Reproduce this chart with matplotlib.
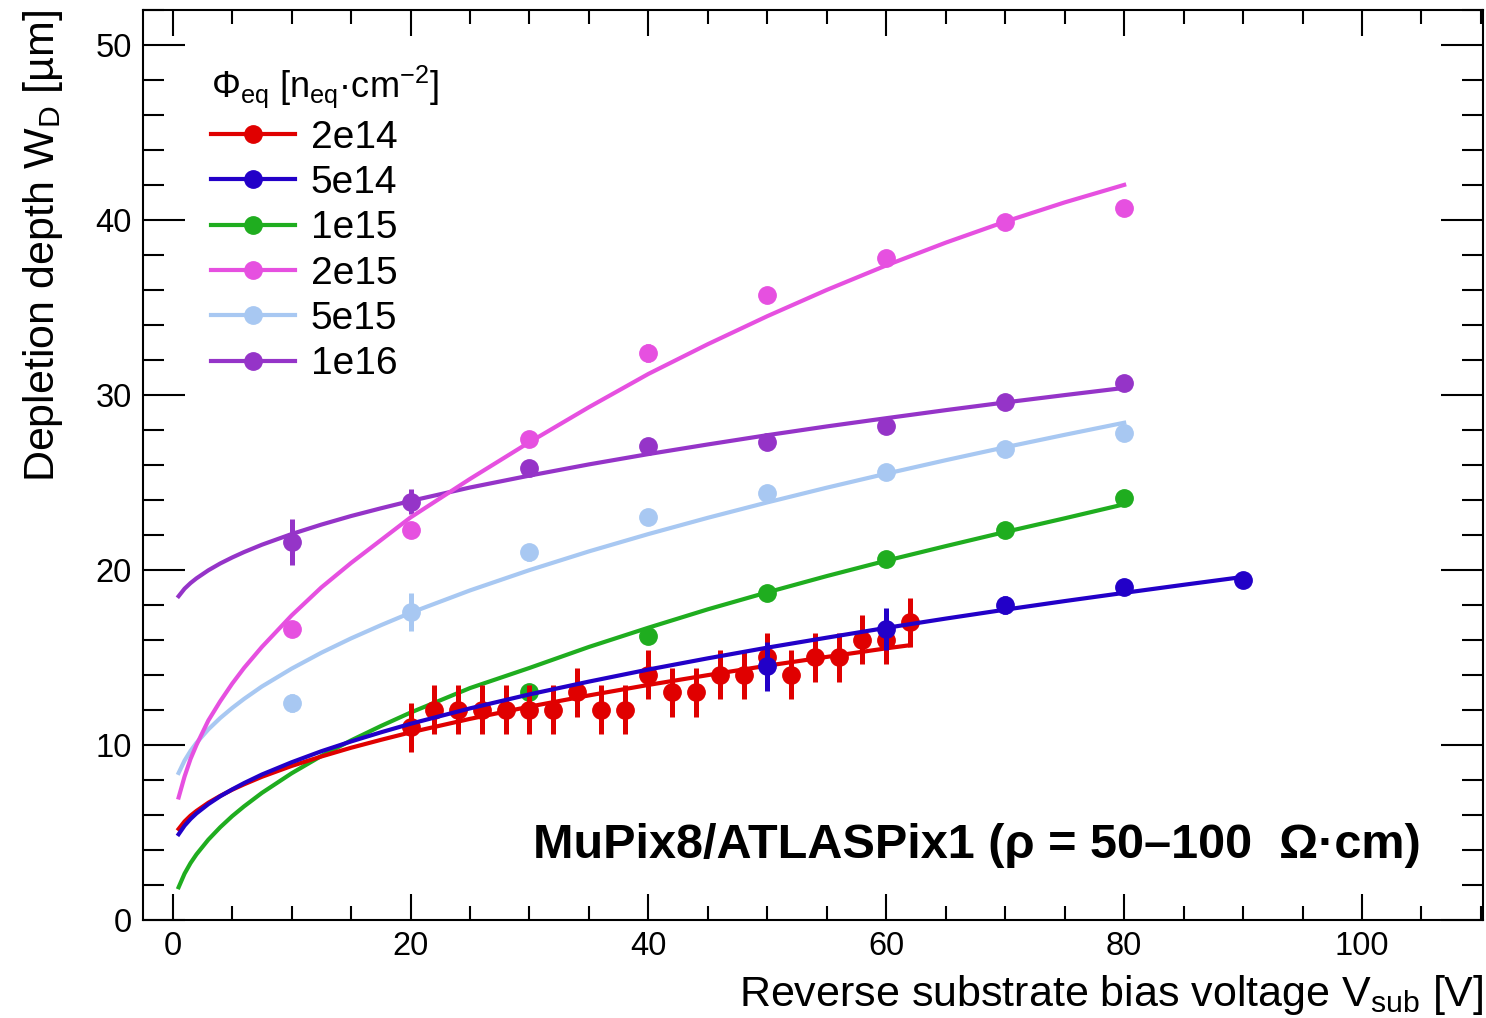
import numpy as np
import matplotlib
matplotlib.use("Agg")
import matplotlib.pyplot as plt
from matplotlib.lines import Line2D
from matplotlib.ticker import MultipleLocator

plt.rcParams['font.family'] = ['Liberation Sans', 'DejaVu Sans']
plt.rcParams['mathtext.fontset'] = 'custom'
plt.rcParams['mathtext.rm'] = 'Liberation Sans'
plt.rcParams['mathtext.it'] = 'Liberation Sans:italic'

# fluences (legend labels) and colours
labels = ['2e14', '5e14', '1e15', '2e15', '5e15', '1e16']
colors = ['#e00000', '#2200c8', '#1fad1f', '#e650e0', '#a8c8f2', '#9534c8']

# measured points: bias voltage [V], depletion depth [um], error [um]
v_2e14 = [20, 22, 24, 26, 28, 30, 32, 34, 36, 38, 40, 42, 44, 46, 48, 50, 52, 54, 56, 58, 60, 62]
w_2e14 = [11.0, 12.0, 12.0, 12.0, 12.0, 12.0, 12.0, 13.0, 12.0, 12.0, 14.0, 13.0, 13.0, 14.0, 14.0,
          15.0, 14.0, 15.0, 15.0, 16.0, 16.0, 17.0]
e_2e14 = [1.4] * 22

v_5e14 = [50, 60, 70, 80, 90]
w_5e14 = [14.5, 16.6, 18.0, 19.0, 19.4]
e_5e14 = [1.4, 1.2, 0.5, 0.3, 0.3]

v_1e15 = [30, 40, 50, 60, 70, 80]
w_1e15 = [13.0, 16.2, 18.7, 20.6, 22.3, 24.1]
e_1e15 = [0.2, 0.2, 0.2, 0.2, 0.2, 0.2]

v_2e15 = [10, 20, 30, 40, 50, 60, 70, 80]
w_2e15 = [16.6, 22.3, 27.5, 32.4, 35.7, 37.8, 39.9, 40.7]
e_2e15 = [0.3, 0.3, 0.3, 0.5, 0.3, 0.3, 0.3, 0.3]

v_5e15 = [10, 20, 30, 40, 50, 60, 70, 80]
w_5e15 = [12.4, 17.6, 21.0, 23.0, 24.4, 25.6, 26.9, 27.8]
e_5e15 = [0.5, 1.1, 0.5, 0.3, 0.3, 0.3, 0.3, 0.3]

v_1e16 = [10, 20, 30, 40, 50, 60, 70, 80]
w_1e16 = [21.6, 23.9, 25.8, 27.1, 27.3, 28.2, 29.6, 30.7]
e_1e16 = [1.3, 0.7, 0.3, 0.3, 0.3, 0.3, 0.3, 0.3]

# fit curves
fv = [0.5, 1, 1.5, 2, 3, 4, 5, 6, 7.5, 10, 12.5, 15, 17.5, 20, 25, 30, 35, 40, 45, 50, 55, 60,
      65, 70, 75, 80, 85, 90]
fw_2e14 = [5.20, 5.63, 5.96, 6.23, 6.70, 7.09, 7.44, 7.75, 8.18, 8.80, 9.34, 9.84, 10.29, 10.72,
           11.49, 12.19, 12.83, 13.43, 13.99, 14.53, 15.03, 15.52]
fv_2e14 = fv[:22] + [62]
fw_2e14 = fw_2e14 + [15.70]
fw_5e14 = [4.90, 5.39, 5.77, 6.09, 6.62, 7.07, 7.46, 7.82, 8.31, 9.01, 9.64, 10.20, 10.72, 11.21,
           12.09, 12.89, 13.62, 14.31, 14.95, 15.56, 16.13, 16.69, 17.22, 17.73, 18.22, 18.69,
           19.15, 19.60]
fw_1e15 = [1.87, 2.65, 3.25, 3.75, 4.59, 5.30, 5.93, 6.49, 7.26, 8.38, 9.37, 10.26, 11.08, 11.85,
           13.25, 14.40, 15.60, 16.70, 17.75, 18.72, 19.65, 20.53, 21.36, 22.17, 22.95, 23.75]
fw_2e15 = [7.0, 8.2, 9.2, 10.0, 11.4, 12.5, 13.5, 14.4, 15.6, 17.4, 19.0, 20.4, 21.7, 23.0,
           25.2, 27.3, 29.3, 31.2, 32.9, 34.5, 36.0, 37.4, 38.7, 39.9, 41.0, 42.0]
fw_5e15 = [8.40, 9.11, 9.66, 10.12, 10.89, 11.54, 12.11, 12.63, 13.34, 14.36, 15.27, 16.09, 16.84,
           17.55, 18.83, 19.99, 21.06, 22.05, 22.98, 23.86, 24.70, 25.50, 26.27, 27.01, 27.72, 28.41]
fw_1e16 = [18.50, 18.93, 19.25, 19.52, 19.98, 20.37, 20.71, 21.02, 21.44, 22.05, 22.59, 23.08,
           23.52, 23.94, 24.71, 25.39, 26.03, 26.62, 27.17, 27.70, 28.20, 28.67, 29.13, 29.57,
           29.99, 30.40]

points = [(v_2e14, w_2e14, e_2e14), (v_5e14, w_5e14, e_5e14), (v_1e15, w_1e15, e_1e15),
          (v_2e15, w_2e15, e_2e15), (v_5e15, w_5e15, e_5e15), (v_1e16, w_1e16, e_1e16)]
fits = [(fv_2e14, fw_2e14), (fv, fw_5e14), (fv[:26], fw_1e15),
        (fv[:26], fw_2e15), (fv[:26], fw_5e15), (fv[:26], fw_1e16)]
layer = [8, 10, 6, 4, 3, 2]  # blue over red over green over the rest

fig = plt.figure(figsize=(14.86, 10.18), dpi=100)
ax = fig.add_axes([0.0962, 0.0963, 0.902, 0.894])

for i in range(6):
    v, w, e = points[i]
    ax.errorbar(v, w, yerr=e, fmt='o', color=colors[i], ms=12.5, elinewidth=3.6, capsize=0,
                zorder=layer[i] + 0.5)
    x_fit, y_fit = fits[i]
    ax.plot(x_fit, y_fit, '-', color=colors[i], lw=3, zorder=layer[i])

ax.set_xlim(-2.5, 110.2)
ax.set_ylim(0, 52)
ax.xaxis.set_major_locator(MultipleLocator(20))
ax.xaxis.set_minor_locator(MultipleLocator(5))
ax.yaxis.set_major_locator(MultipleLocator(10))
ax.yaxis.set_minor_locator(MultipleLocator(2))
ax.tick_params(which='both', direction='in', top=True, right=True, width=1.5, labelsize=23.5)
ax.tick_params(axis='x', which='major', length=19, pad=8)
ax.tick_params(axis='x', which='minor', length=10)
ax.tick_params(axis='y', which='major', length=30, pad=8)
ax.tick_params(axis='y', which='minor', length=15)
for s in ax.spines.values():
    s.set_linewidth(1.5)

ax.set_xlabel(r'Reverse substrate bias voltage V$_{\rm sub}$ [V]', fontsize=31, ha='right', x=1.0, labelpad=8)
ax.set_ylabel('Depletion depth W$_{\\rm D}$ [µm]', fontsize=31, ha='right', y=1.0, labelpad=22)

ax.text(0.953, 0.068, 'MuPix8/ATLASPix1 (ρ = 50–100  Ω·cm)', transform=ax.transAxes,
        ha='right', va='baseline', fontsize=35, fontweight='bold')

handles = [Line2D([], [], color=c, lw=3, marker='o', ms=12.5) for c in colors]
leg = ax.legend(handles, labels, loc='upper left', bbox_to_anchor=(0.039, 0.958), frameon=False,
                fontsize=28, title=r'$\Phi_{\rm eq}$ [n$_{\rm eq}$·cm$^{-2}$]', title_fontsize=26,
                alignment='left', handlelength=2.16, handletextpad=0.41, labelspacing=0.24,
                borderaxespad=0)

fig.savefig('out.png', dpi=100)
